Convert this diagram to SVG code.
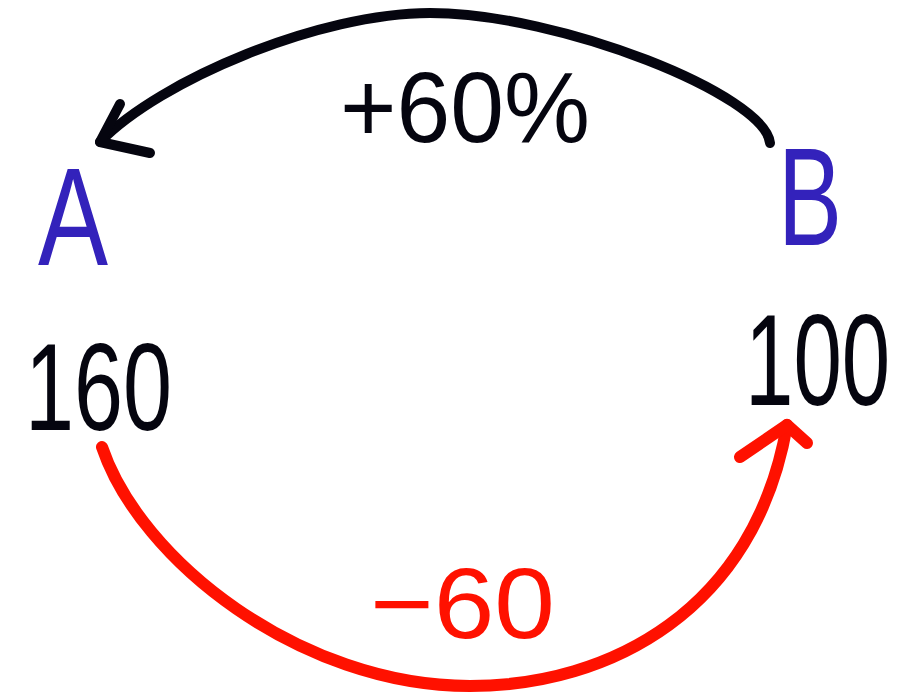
<svg xmlns="http://www.w3.org/2000/svg" width="900" height="693" viewBox="0 0 900 693">
<style>
.lbl{font-family:"Liberation Sans","Noto Sans",sans-serif;}
.blue{fill:#3322bb;}
.blk{fill:#05050f;}
.red{fill:#ff1100;}
.arcb{fill:none;stroke:#05050f;stroke-width:10;stroke-linecap:round;stroke-linejoin:round;}
.arcr{fill:none;stroke:#ff1100;stroke-width:12;stroke-linecap:round;stroke-linejoin:round;}
</style>
<rect width="900" height="693" fill="#ffffff"/>
<g id="connectors">
<path class="arcb" d="M770,143 C765,95 560,13 430,13 C320,13 160,80 100,142"/>
<path class="arcb" d="M120,104 L100,142 L150,153"/>
<text class="lbl blk" x="340" y="142" font-size="100" textLength="250" lengthAdjust="spacingAndGlyphs">+60%</text>
<path class="arcr" d="M102,447 C140,560 300,686 470,686 C610,686 755,610 787,425"/>
<path class="arcr" d="M740,457 L787,425 L807,443"/>
<text class="lbl red" x="370" y="638" font-size="100" textLength="185" lengthAdjust="spacingAndGlyphs">−60</text>
</g>
<g id="node-A">
<text class="lbl blue" x="38" y="265" font-size="140" textLength="70" lengthAdjust="spacingAndGlyphs">A</text>
<text class="lbl blk" x="25" y="430" font-size="125" textLength="147" lengthAdjust="spacingAndGlyphs">160</text>
</g>
<g id="node-B">
<text class="lbl blue" x="778" y="245" font-size="140" textLength="64" lengthAdjust="spacingAndGlyphs">B</text>
<text class="lbl blk" transform="translate(745,405) scale(0.67,1)" x="0" y="0" font-size="130">100</text>
</g>
</svg>
